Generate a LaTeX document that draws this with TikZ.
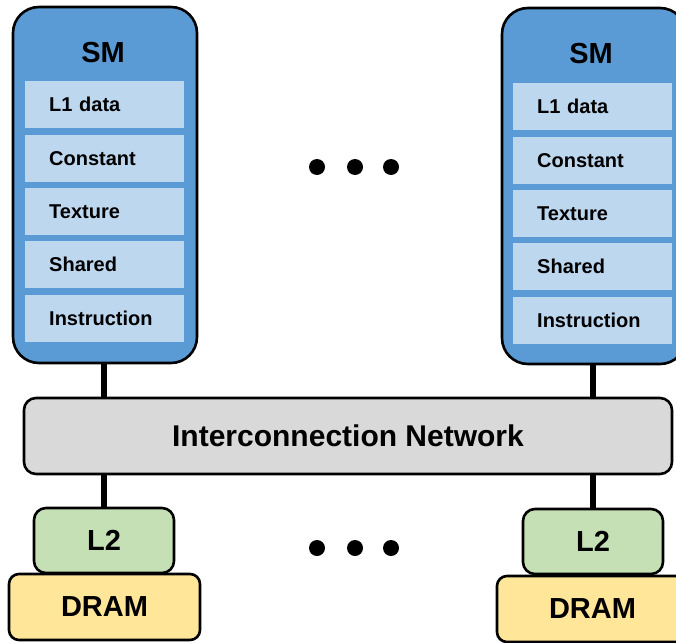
\documentclass[tikz,border=0pt]{standalone}
\usepackage{fontspec}
\setmainfont{Liberation Sans}
\definecolor{smblue}{HTML}{5B9BD5}
\definecolor{cacheblue}{HTML}{BDD7EE}
\definecolor{netgray}{HTML}{D9D9D9}
\definecolor{l2green}{HTML}{C5E0B4}
\definecolor{dramyellow}{HTML}{FFE699}
\tikzset{
  box/.style={draw=black, line width=2.6pt, anchor=north west, inner sep=0pt, outer sep=0pt},
  smbox/.style={box, fill=smblue, rounded corners=26pt, minimum width=184pt, minimum height=356pt},
  cachebox/.style={fill=cacheblue, anchor=north west, minimum width=159pt, minimum height=47pt,
    inner xsep=24pt, inner ysep=0pt, text width=111pt, align=left,
    font=\bfseries\fontsize{20}{22}\selectfont},
  netbox/.style={box, fill=netgray, rounded corners=12pt, minimum width=648pt, minimum height=76pt,
    font=\bfseries\fontsize{30}{32}\selectfont},
  l2box/.style={box, fill=l2green, rounded corners=12pt, minimum width=140pt, minimum height=65pt,
    font=\bfseries\fontsize{29}{30}\selectfont},
  drambox/.style={box, fill=dramyellow, rounded corners=10pt, minimum width=191pt, minimum height=66pt,
    font=\bfseries\fontsize{29}{30}\selectfont},
  title/.style={font=\bfseries\fontsize{29}{30}\selectfont},
  link/.style={line width=6pt},
  dot/.style={circle, fill=black, minimum size=16pt, inner sep=0pt}
}
\begin{document}
\begin{tikzpicture}[x=1pt, y=-1pt]
\clip (0,0) rectangle (676,642);
\fill[white] (0,0) rectangle (676,642);

% streaming multiprocessors
\node[smbox] (smL) at (13,7) {};
\node[smbox] (smR) at (502,8) {};
\node[title] (smLt) at (103,53) {SM};
\node[title] (smRt) at (591,54) {SM};

% on-chip memories, left SM
\node[cachebox] (l1L)  at (25,81)  {L1 data};
\node[cachebox] (cnL)  at (25,135) {Constant};
\node[cachebox] (txL)  at (25,188) {Texture};
\node[cachebox] (shL)  at (25,241) {Shared};
\node[cachebox] (inL)  at (25,295) {Instruction};

% on-chip memories, right SM
\node[cachebox] (l1R)  at (513,83)  {L1 data};
\node[cachebox] (cnR)  at (513,137) {Constant};
\node[cachebox] (txR)  at (513,190) {Texture};
\node[cachebox] (shR)  at (513,243) {Shared};
\node[cachebox] (inR)  at (513,297) {Instruction};

% interconnect
\node[netbox] (net) at (24,398) {Interconnection Network};

% memory partitions
\node[l2box] (l2L) at (34,508) {L2};
\node[l2box] (l2R) at (523,509) {L2};
\node[drambox] (drL) at (9,574) {DRAM};
\node[drambox] (drR) at (497,576) {DRAM};

% links
\draw[link] (smL.south -| l2L.north) -- (net.north -| l2L.north);
\draw[link] (net.south -| l2L.north) -- (l2L.north);
\draw[link] (smR.south -| l2R.north) -- (net.north -| l2R.north);
\draw[link] (net.south -| l2R.north) -- (l2R.north);

% ellipses
\foreach \i/\x in {1/317, 2/355, 3/391} {
  \node[dot] (top\i) at (\x,167) {};
  \node[dot] (bot\i) at (\x,548) {};
}
\end{tikzpicture}
\end{document}
